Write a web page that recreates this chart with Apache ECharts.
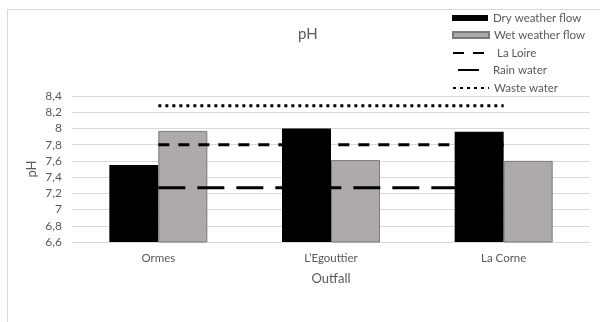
<!DOCTYPE html>
<html>
<head>
<meta charset="utf-8">
<script src="https://cdn.jsdelivr.net/npm/echarts@6/dist/echarts.min.js"></script>
<style>
  html, body { margin: 0; padding: 0; background: #fff; }
  #chart { width: 600px; height: 322px; }
</style>
</head>
<body>
<div id="chart"></div>
<script>
// Outfall sites along the x axis
const categories = ['Ormes', 'L\u2019Egouttier', 'La Corne'];
// Measured pH of each outfall
const dryWeather = [7.55, 8.0, 7.96];
const wetWeather = [7.97, 7.61, 7.60];
// Reference pH levels, drawn as flat lines across the outfalls
const laLoire = [7.8, 7.8, 7.8];
const rainWater = [7.27, 7.27, 7.27];
const wasteWater = [8.28, 8.28, 8.28];
// Value axis range
const yMin = 6.6, yMax = 8.4, yStep = 0.2;

const FONT = 'Lato, "Open Sans", sans-serif';
const TEXT = '#595959';
const GRID = '#d9d9d9';

const chart = echarts.init(document.getElementById('chart'), null, { renderer: 'canvas' });

function legendAt(name, left, top, width, padLeft, isLine) {
  const lg = {
    data: [name],
    left: left, top: top,
    padding: 0,
    itemWidth: width,
    itemHeight: 6,
    selectedMode: false,
    textStyle: { color: TEXT, fontFamily: FONT, fontSize: 11.5, lineHeight: 14,
                 padding: [0, 0, 0, padLeft || 0] }
  };
  // line keys show only the stroke, without a marker; bar keys are square boxes
  if (isLine) lg.itemStyle = { opacity: 0 };
  else lg.icon = 'rect';
  return lg;
}

chart.setOption({
  animation: false,
  title: {
    text: 'pH', left: 293, top: 22,
    textStyle: { color: TEXT, fontFamily: FONT, fontSize: 15, fontWeight: 'normal' }
  },
  graphic: [
    { type: 'line', shape: { x1: 8, y1: 9.5, x2: 600, y2: 9.5 }, style: { stroke: GRID, lineWidth: 1 }, silent: true },
    { type: 'line', shape: { x1: 7.5, y1: 9, x2: 7.5, y2: 322 }, style: { stroke: GRID, lineWidth: 1 }, silent: true }
  ],
  legend: [
    legendAt('Dry weather flow', 452, 11, 36),
    legendAt('Wet weather flow', 452, 28, 36),
    legendAt('La Loire', 452, 46, 36, 3, true),
    legendAt('Rain water', 457, 63, 21, 9, true),
    legendAt('Waste water', 452, 81, 36, 0, true)
  ],
  grid: { left: 72, right: 10, top: 96, height: 146 },
  xAxis: {
    type: 'category',
    data: categories,
    name: 'Outfall',
    nameLocation: 'middle',
    nameGap: 30,
    nameTextStyle: { color: TEXT, fontFamily: FONT, fontSize: 13 },
    axisLine: { lineStyle: { color: GRID } },
    axisTick: { show: false },
    axisLabel: { color: TEXT, fontFamily: FONT, fontSize: 11.5, margin: 10 }
  },
  yAxis: {
    type: 'value',
    min: yMin, max: yMax, interval: yStep,
    name: 'pH',
    nameLocation: 'middle',
    nameGap: 34,
    nameRotate: 90,
    nameMoveOverlap: false,
    nameTextStyle: { color: TEXT, fontFamily: FONT, fontSize: 13 },
    axisLine: { show: false },
    axisTick: { show: false },
    splitLine: { lineStyle: { color: GRID } },
    axisLabel: {
      color: TEXT, fontFamily: FONT, fontSize: 12, margin: 10,
      formatter: v => String(+v.toFixed(1)).replace('.', ',')
    }
  },
  series: [
    { name: 'Dry weather flow', type: 'bar', data: dryWeather, barWidth: 49, barGap: '0%',
      itemStyle: { color: '#000000' } },
    { name: 'Wet weather flow', type: 'bar', data: wetWeather, barWidth: 49, barGap: '0%',
      itemStyle: { color: '#aeaaaa', borderColor: '#7a7a7a', borderWidth: 1 } },
    { name: 'La Loire', type: 'line', data: laLoire, symbol: 'none', z: 5,
      itemStyle: { color: '#000' },
      lineStyle: { color: '#000', width: 3, type: [11, 9] } },
    { name: 'Rain water', type: 'line', data: rainWater, symbol: 'none', z: 5,
      itemStyle: { color: '#000' },
      lineStyle: { color: '#000', width: 3, type: [27, 12] } },
    { name: 'Waste water', type: 'line', data: wasteWater, symbol: 'none', z: 5,
      itemStyle: { color: '#000' },
      lineStyle: { color: '#000', width: 3, type: [3, 4] } }
  ]
});
</script>
</body>
</html>
